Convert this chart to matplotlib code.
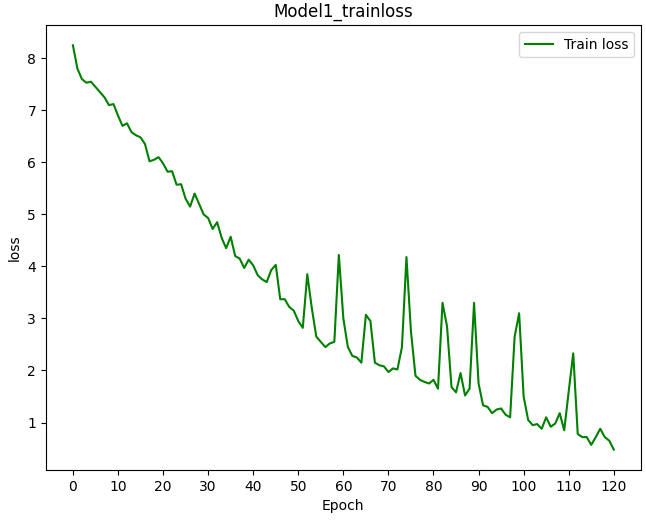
import matplotlib
matplotlib.use('Agg')
import matplotlib.pyplot as plt

# Train loss per epoch
epochs = list(range(121))
train_loss = [
    8.25, 7.80, 7.60, 7.53, 7.55, 7.45, 7.35, 7.25, 7.10, 7.12,
    6.90, 6.70, 6.75, 6.58, 6.52, 6.48, 6.35, 6.02, 6.05, 6.10,
    5.98, 5.82, 5.83, 5.57, 5.58, 5.30, 5.15, 5.40, 5.20, 5.00,
    4.93, 4.72, 4.85, 4.55, 4.35, 4.57, 4.20, 4.15, 3.97, 4.13,
    4.02, 3.83, 3.75, 3.70, 3.93, 4.03, 3.37, 3.37, 3.22, 3.15,
    2.95, 2.82, 3.85, 3.20, 2.65, 2.55, 2.45, 2.52, 2.55, 4.22,
    3.00, 2.45, 2.28, 2.25, 2.15, 3.07, 2.95, 2.15, 2.10, 2.08,
    1.97, 2.04, 2.02, 2.45, 4.18, 2.75, 1.90, 1.82, 1.78, 1.75,
    1.82, 1.65, 3.30, 2.85, 1.68, 1.58, 1.95, 1.52, 1.65, 3.30,
    1.75, 1.33, 1.30, 1.18, 1.25, 1.27, 1.15, 1.10, 2.65, 3.10,
    1.50, 1.05, 0.95, 0.97, 0.88, 1.10, 0.92, 0.98, 1.18, 0.85,
    1.60, 2.33, 0.78, 0.72, 0.72, 0.57, 0.72, 0.88, 0.72, 0.65,
    0.48,
]
x_ticks = list(range(0, 121, 10))

fig, ax = plt.subplots(figsize=(6.46, 5.22), dpi=100)
fig.subplots_adjust(left=0.071, right=0.992, top=0.952, bottom=0.1)

ax.plot(epochs, train_loss, color='g', label='Train loss')
ax.set_xticks(x_ticks)
ax.set_xlabel('Epoch')
ax.set_ylabel('loss')
ax.set_title('Model1_trainloss')
ax.legend(loc='upper right')

plt.savefig('out.png', dpi=100)
